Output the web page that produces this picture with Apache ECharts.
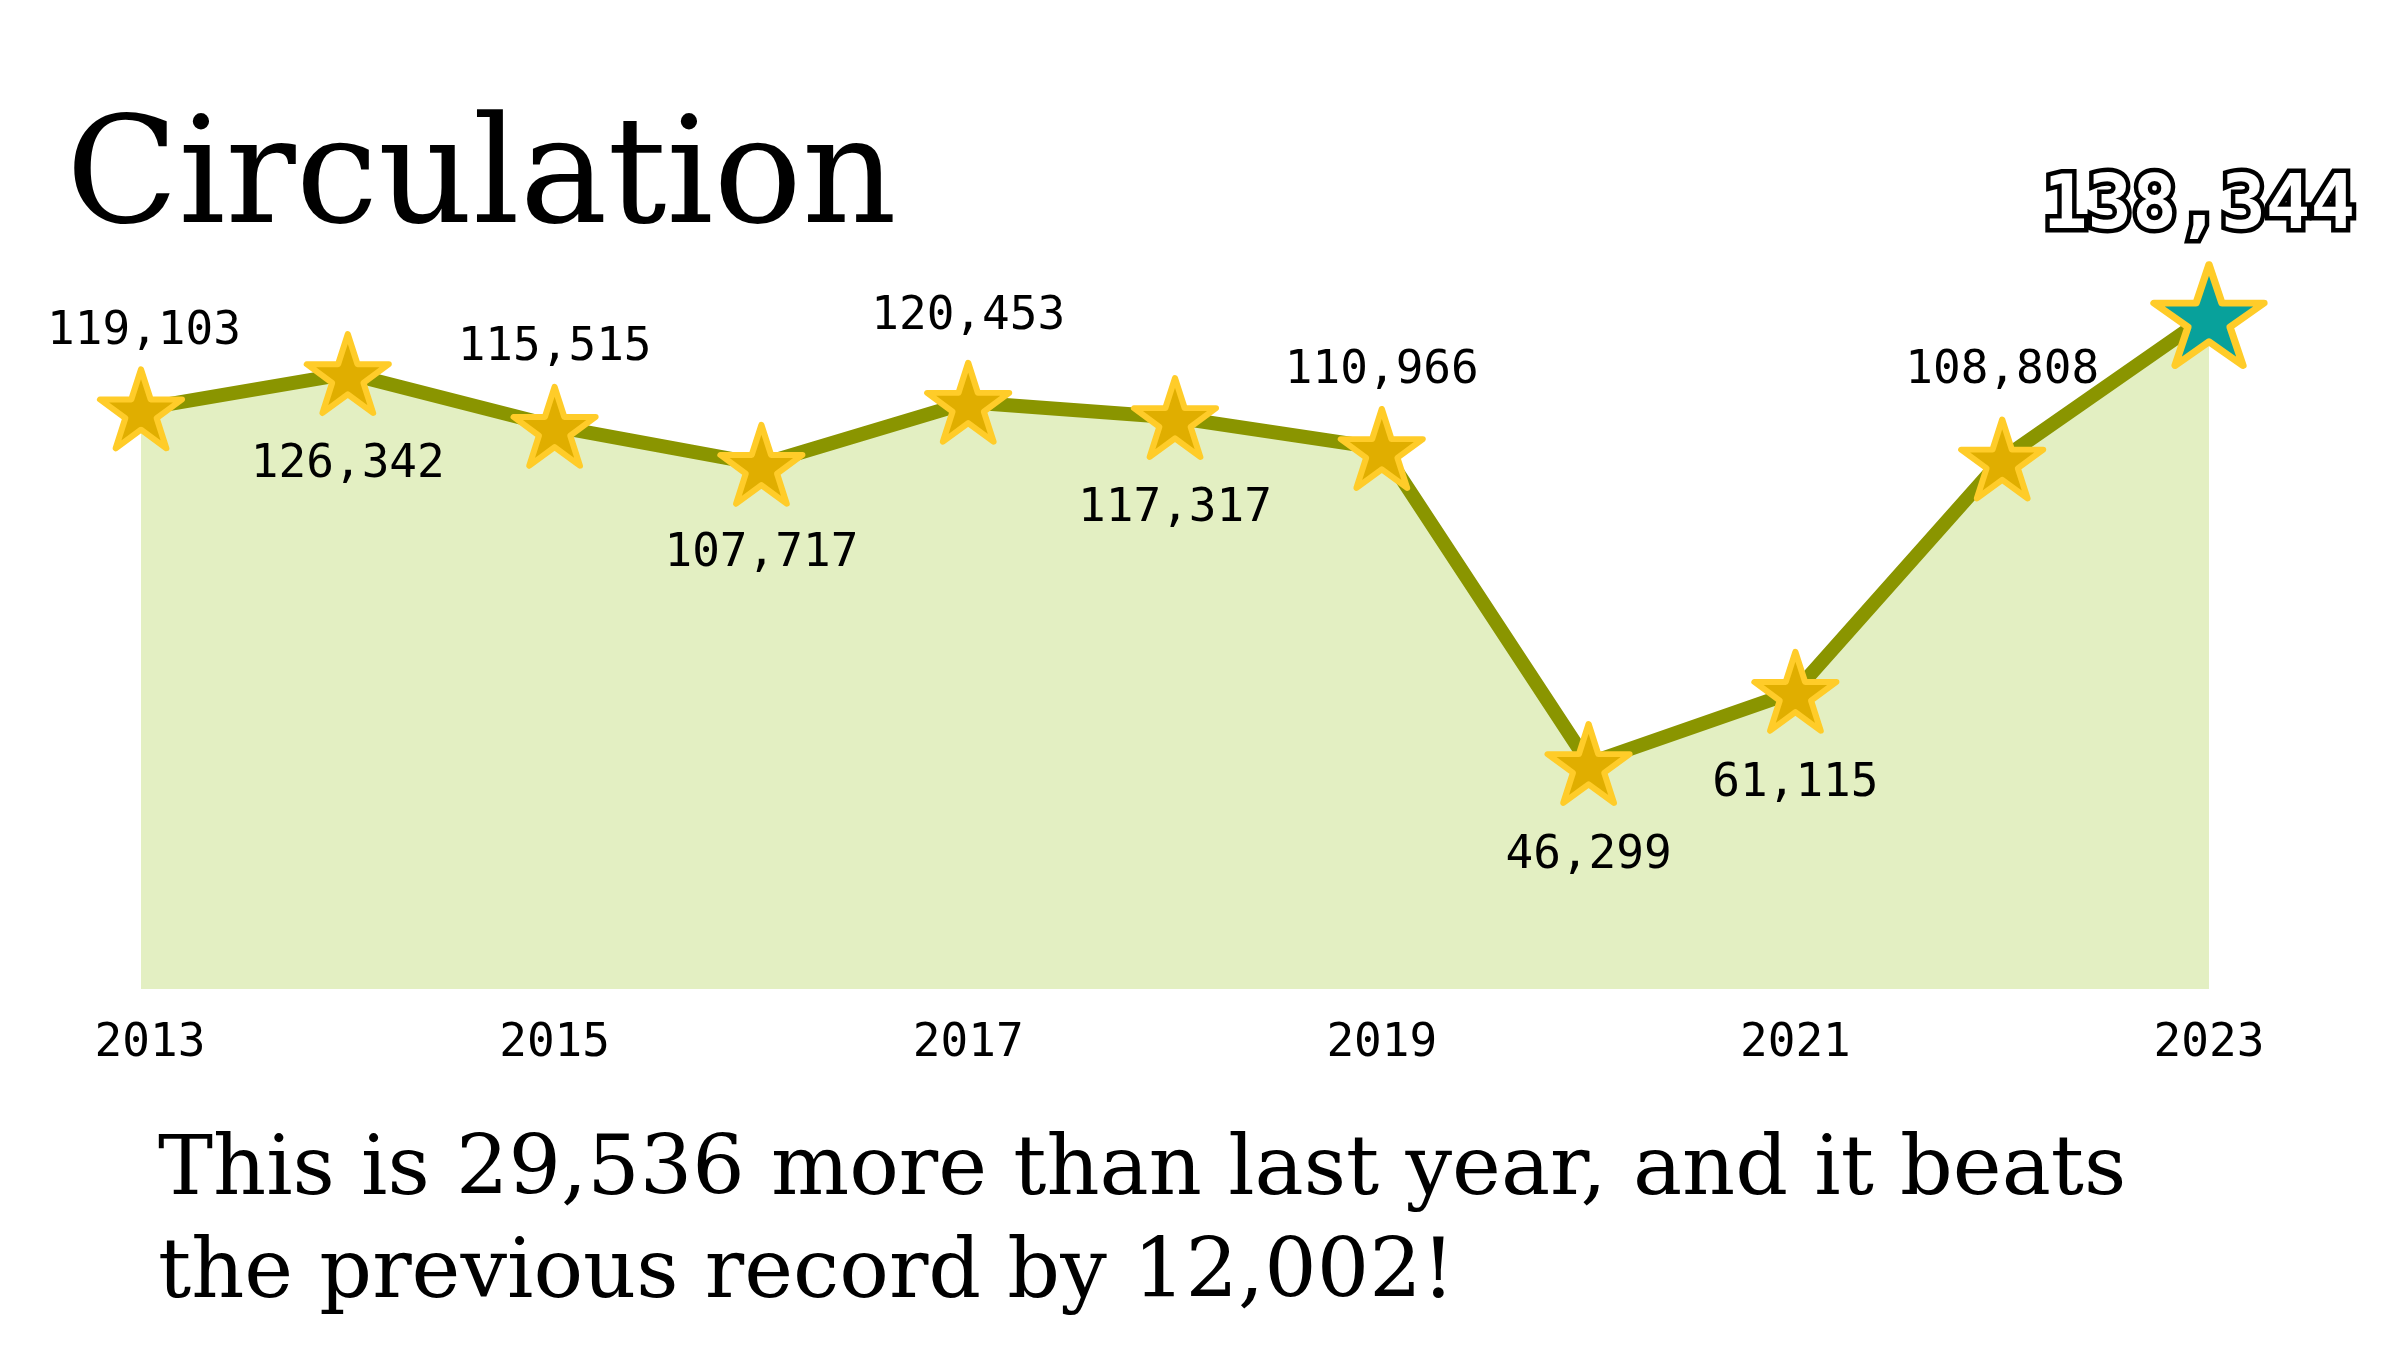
<!DOCTYPE html>
<html>
<head>
<meta charset="utf-8">
<script src="https://cdn.jsdelivr.net/npm/echarts@6/dist/echarts.min.js"></script>
<style>
html,body{margin:0;padding:0;background:#fff;}
#chart{width:2400px;height:1350px;}
</style>
</head>
<body>
<div id="chart"></div>
<script>
// ---- data ----
const years = ['2013','2014','2015','2016','2017','2018','2019','2020','2021','2022','2023'];
const circulation = [119103, 126342, 115515, 107717, 120453, 117317, 110966, 46299, 61115, 108808, 138344];
const titleText = 'Circulation';
const noteText = 'This is 29,536 more than last year, and it beats\nthe previous record by 12,002!';

// ---- styling (label placement relative to each star) ----
const labelOffsetY = [-77, 92, -78, 90, -85, 92, -77, 93, 93, -88, -106];
const labelOffsetX = [3, 0, 0, 0, 0, 0, 0, 0, 0, 0, -10];

function starPath() {
  let d = '';
  for (let k = 0; k < 10; k++) {
    const r = (k % 2) ? 38.2 : 100;
    const a = (-90 + k * 36) * Math.PI / 180;
    const x = (r * Math.cos(a)).toFixed(2), y = (r * Math.sin(a)).toFixed(2);
    d += (k === 0 ? 'M' : 'L') + x + ' ' + y + ' ';
  }
  return 'path://' + d + 'Z';
}
const STAR = starPath();
const monoFont = '"DejaVu Sans Mono", "Liberation Mono", monospace';
const serifFont = '"DejaVu Serif", "Liberation Serif", serif';

const lastIdx = circulation.length - 1;
const seriesData = circulation.map((v, i) => {
  const item = {
    value: v,
    label: {
      position: 'inside',
      offset: [labelOffsetX[i], labelOffsetY[i]]
    }
  };
  if (i === lastIdx) {
    item.symbolSize = [110, 101];
    item.itemStyle = { color: '#08A19B', borderWidth: 7 };
    item.label = {
      position: 'inside',
      offset: [labelOffsetX[i], labelOffsetY[i]],
      fontSize: 74,
      fontWeight: 'bold',
      lineHeight: 74,
      color: '#ffffff',
      textBorderColor: '#000000',
      textBorderWidth: 9
    };
  }
  return item;
});

const axisCats = years.map((y, i) => i === 0 ? { value: y, textStyle: { padding: [0, 0, 0, 18] } } : y);

const chart = echarts.init(document.getElementById('chart'), null, { renderer: 'canvas' });
chart.setOption({
  animation: false,
  backgroundColor: '#ffffff',
  title: [
    {
      text: titleText,
      left: 66,
      top: 110,
      padding: 0,
      textStyle: { fontFamily: serifFont, fontSize: 147, fontWeight: 'normal', color: '#000', lineHeight: 147 }
    },
    {
      text: noteText,
      left: 158,
      top: 1121,
      padding: 0,
      textStyle: { fontFamily: serifFont, fontSize: 82.5, fontWeight: 'normal', color: '#000', lineHeight: 103 }
    }
  ],
  grid: { left: 141, right: 191, top: 307, bottom: 361, containLabel: false },
  xAxis: {
    type: 'category',
    data: axisCats,
    boundaryGap: false,
    axisLine: { show: false },
    axisTick: { show: false },
    splitLine: { show: false },
    axisLabel: {
      interval: 1,
      margin: 32,
      fontFamily: monoFont,
      fontSize: 46,
      lineHeight: 46,
      color: '#000'
    }
  },
  yAxis: {
    type: 'value',
    min: 0,
    max: 140000,
    show: false,
    splitLine: { show: false }
  },
  series: [{
    type: 'line',
    data: seriesData,
    symbol: STAR,
    symbolSize: [82, 79],
    showSymbol: true,
    showAllSymbol: true,
    lineStyle: { color: '#8A9500', width: 14, join: 'round' },
    areaStyle: { color: '#E3EFC2', opacity: 1 },
    itemStyle: { color: '#E0AE00', borderColor: '#FFCC29', borderWidth: 6, borderJoin: 'round' },
    label: {
      show: true,
      fontFamily: monoFont,
      fontSize: 46,
      lineHeight: 46,
      color: '#000',
      formatter: p => p.value.toLocaleString('en-US')
    },
    emphasis: { disabled: true },
    z: 2
  }]
});
</script>
</body>
</html>
